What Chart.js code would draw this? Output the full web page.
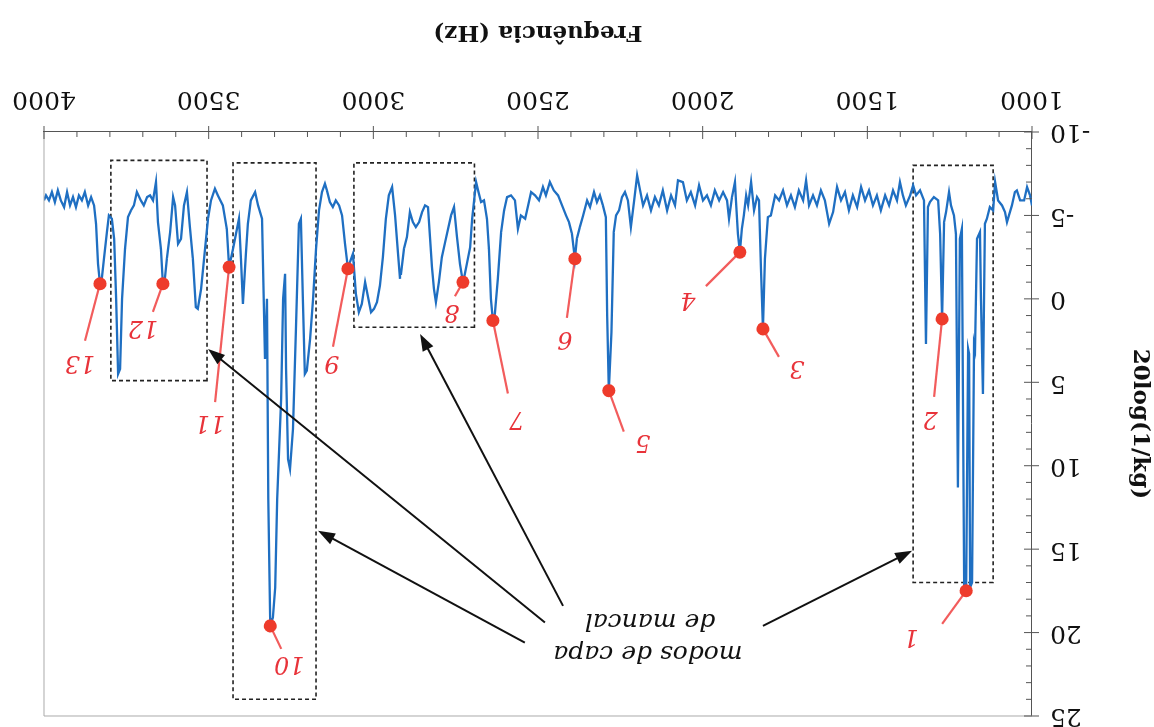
<!DOCTYPE html>
<html lang="pt">
<head>
<meta charset="UTF-8">
<title>Modos de capa de mancal</title>
<script src="https://cdn.jsdelivr.net/npm/chart.js"></script>
<style>
  html, body { margin: 0; padding: 0; background: #fff; }
  /* a figura original foi digitalizada de cabeça para baixo */
  #wrap { width: 1154px; height: 727px; transform: rotate(180deg); }
</style>
</head>
<body>
<div id="wrap"><canvas id="grafico" width="1154" height="727"></canvas></div>

<script>
// curva medida: frequência (Hz) e 20log(1/kg)
const freqHz = [
  1000,1006,1015,1024,1036,1046,1052,1061,1070,1076,
  1082,1091,1103,1112,1118,1128,1137,1143,1149,1155,
  1158,1167,1173,1176,1182,1188,1191,1194,1200,1206,
  1213,1219,1225,1231,1237,1246,1252,1261,1267,1273,
  1279,1285,1298,1310,1316,1322,1328,1340,1352,1361,
  1370,1383,1392,1401,1410,1422,1434,1446,1459,1471,
  1483,1495,1507,1519,1531,1544,1556,1568,1580,1592,
  1604,1616,1629,1641,1653,1665,1677,1686,1695,1708,
  1720,1732,1744,1756,1768,1780,1793,1802,1811,1817,
  1823,1829,1835,1844,1853,1862,1868,1875,1881,1887,
  1893,1899,1902,1911,1920,1926,1938,1950,1963,1975,
  1987,1999,2011,2023,2036,2048,2060,
  2075,2084,2096,2108,2121,2133,2145,2157,2169,2181,
  2190,2199,2208,2218,2227,2236,2245,2254,2263,2270,
  2277,2285,2290,2294,2303,2312,2321,2330,2342,2351,
  2363,2373,2382,2388,2397,2406,2415,2427,2439,2452,
  2464,2476,2485,2497,2509,2521,2530,2539,2552,2561,
  2570,2582,2594,2603,2612,2622,2631,2637,2643,2649,
  2655,2664,2673,2682,2688,2694,2700,2706,2715,2722,
  2728,2737,
  2746,2755,2764,2773,2782,2792,2801,2810,2816,2822,
  2828,2834,2843,2852,2861,2871,2880,2889,2898,2907,
  2916,2919,2925,2934,2943,2953,2962,2971,2980,2989,
  2998,3007,3016,3025,3035,3044,3053,3062,3071,3077,
  3086,3095,3104,3114,3123,3132,
  3141,3147,3156,3165,3174,3183,3192,3202,3208,3214,
  3220,3226,3235,3244,3253,3259,3265,3268,3274,3280,
  3286,3292,3298,3305,3313,3319,3323,3329,3338,3350,
  3359,3372,3381,3387,3396,3402,3408,3417,3426,3438,
  3445,3457,3472,3481,3493,3502,3514,3523,3533,3539,
  3548,3557,
  3566,3575,3584,3593,3602,3608,3617,3627,3633,3639,
  3645,3654,3660,3669,3678,3687,3697,3706,3718,3727,
  3736,3745,3754,3763,3769,3775,3781,3787,3794,3803,
  3809,3818,3824,3830,3836,3842,3848,3857,3866,3876,
  3885,3894,3903,3912,3921,3930,3939,3949,3958,3967,
  3976,3985,3994,4000
];
const level = [
  -5.6,-6.2,-6.7,-5.9,-5.9,-6.5,-6.4,-5.6,-5.0,-4.6,
  -5.2,-5.6,-5.9,-7.0,-5.3,-5.5,-4.8,-4.5,5.7,0.0,
  -4.0,-3.6,3.0,2.7,17.0,17.3,3.3,3.0,17.5,17.2,
  -4.2,-3.6,11.3,-3.9,-5.0,-5.6,-6.4,-5.2,-4.6,1.2,
  -3.9,-5.9,-6.1,-5.8,-5.5,2.7,-5.9,-6.5,-6.2,-6.8,
  -6.2,-5.6,-6.2,-7.0,-5.9,-6.5,-5.6,-6.2,-5.3,-6.2,
  -5.6,-6.5,-5.9,-6.7,-5.5,-6.2,-5.3,-6.4,-5.9,-6.7,
  -5.2,-4.5,-5.9,-6.5,-5.6,-6.2,-5.6,-7.1,-5.9,-6.5,
  -5.5,-6.2,-5.6,-6.5,-5.9,-6.2,-5.0,-4.9,-2.4,1.8,
  -1.8,-5.9,-6.1,-5.3,-7.0,-5.6,-6.2,-5.0,-4.2,-2.8,
  -3.9,-5.9,-7.0,-6.1,-4.8,-5.9,-6.4,-5.9,-6.5,-5.6,
  -6.2,-5.9,-6.8,-5.6,-6.4,-5.9,-7.0,
  -7.1,-5.6,-6.2,-5.3,-6.5,-5.6,-6.1,-5.3,-6.2,-5.6,
  -6.5,-7.4,-5.9,-4.3,-5.9,-6.4,-6.1,-5.3,-5.0,-4.0,
  2.0,5.5,1.0,-4.9,-5.6,-6.2,-5.8,-6.4,-5.5,-5.9,
  -5.0,-4.3,-3.6,-2.4,-3.9,-4.6,-5.0,-5.6,-6.2,-6.5,
  -7.0,-6.2,-6.7,-5.9,-6.2,-6.4,-5.6,-4.8,-5.0,-4.2,
  -5.9,-6.2,-6.1,-5.3,-4.0,-1.2,0.9,1.3,0.0,-3.0,
  -4.8,-5.9,-5.8,-6.5,-7.0,-5.9,-4.8,-3.1,-2.2,-1.5,
  -1.0,-2.1,
  -3.7,-5.5,-5.0,-4.2,-3.4,-2.5,-1.0,0.2,-0.6,-1.9,
  -3.7,-5.5,-5.6,-5.2,-4.6,-4.3,-4.6,-5.2,-3.7,-3.0,
  -1.5,-1.2,-2.7,-5.0,-6.7,-6.2,-4.8,-2.5,-0.8,0.2,
  0.6,0.8,-0.1,-1.0,0.3,0.8,-0.3,-2.7,-2.2,-1.8,
  -3.3,-5.0,-5.6,-5.9,-5.5,-5.8,
  -6.5,-6.9,-6.4,-5.3,-3.0,0.0,2.4,4.3,4.5,0.0,
  -4.8,-4.5,1.8,7.8,10.2,9.6,4.2,-1.5,0.0,6.0,
  9.0,12.0,17.3,19.1,19.6,12.0,0.0,3.6,-4.8,-5.6,
  -6.4,-5.9,-4.5,-2.7,0.3,-2.4,-4.8,-3.9,-3.0,-1.9,
  -4.2,-5.6,-6.2,-6.6,-5.9,-4.8,-2.4,-0.6,0.6,0.5,
  -2.4,-4.3,
  -6.4,-5.6,-3.6,-3.3,-5.6,-6.1,-4.0,-2.4,-1.2,-0.9,
  -3.0,-4.6,-7.0,-5.9,-6.2,-6.1,-5.6,-5.9,-6.4,-5.6,
  -5.3,-4.9,-3.0,0.0,4.2,4.5,0.0,-3.6,-4.8,-5.0,
  -4.0,-2.4,-1.3,-0.9,-2.1,-4.5,-5.6,-6.1,-5.6,-6.4,
  -5.9,-6.2,-5.5,-6.1,-5.6,-6.4,-5.5,-5.9,-6.5,-5.8,
  -6.4,-5.9,-6.2,-5.9
];

// picos numerados
const markFreq  = [1200, 1273, 1817, 1887, 2285, 2388, 2637, 2728, 3077, 3313, 3438, 3639, 3830];
const markLevel = [17.5, 1.2, 1.8, -2.8, 5.5, -2.4, 1.3, -1.0, -1.8, 19.6, -1.9, -0.9, -0.9];
const markLabel = ['1','2','3','4','5','6','7','8','9','10','11','12','13'];

// eixos
const xTicks = [1000, 1500, 2000, 2500, 3000, 3500, 4000];
const yTicks = [-10, -5, 0, 5, 10, 15, 20, 25];

// caixas tracejadas [f0, f1, v0, v1] e setas [fIni, vIni, fFim, vFim]
const caixas = [
  [1118, 1361, -8.0, 17.0],
  [2693, 3059, -8.15, 1.7],
  [3174, 3426, -8.15, 24.0],
  [3505, 3797, -8.3, 4.9]
];
const setas = [
  [1817, 19.6, 1364, 15.1],
  [2424, 18.4, 2858, 2.1],
  [2479, 19.4, 3502, 3.0],
  [2540, 20.6, 3168, 13.9]
];
const legendaTxt = ['modos de capa', 'de mancal'];
const legendaPos = [[2166, 21.2], [2160, 19.25]];

// deslocamento (px) da haste e do número de cada pico
const haste = [[24,-33],[8,-78],[-16,-28],[34,-34],[-15,-41],[8,-59],[-15,-73],[8,-14],[15,-78],[-11,-23],[14,-135],[10,-28],[15,-57]];
const rotulo = [[55,-45],[12,-99],[-34,-38],[52,-47],[-34,-51],[10,-79],[-24,-98],[11,-29],[16,-93],[-19,-37],[19,-155],[20,-43],[20,-78]];

const SERIF = '"DejaVu Serif", "Liberation Serif", serif';

function seta(ctx, x0, y0, x1, y1) {
  const a = Math.atan2(y1 - y0, x1 - x0), L = 17, W = 6;
  ctx.beginPath();
  ctx.moveTo(x0, y0);
  ctx.lineTo(x1 - L * 0.7 * Math.cos(a), y1 - L * 0.7 * Math.sin(a));
  ctx.stroke();
  ctx.beginPath();
  ctx.moveTo(x1, y1);
  ctx.lineTo(x1 - L * Math.cos(a) + W * Math.sin(a), y1 - L * Math.sin(a) - W * Math.cos(a));
  ctx.lineTo(x1 - L * Math.cos(a) - W * Math.sin(a), y1 - L * Math.sin(a) + W * Math.cos(a));
  ctx.closePath();
  ctx.fill();
}

const anotacoes = {
  id: 'anotacoes',
  beforeDatasetsDraw(chart) {
    const {ctx, scales: {x, y}} = chart;
    ctx.save();
    ctx.strokeStyle = '#222';
    ctx.lineWidth = 1.6;
    ctx.setLineDash([4, 3]);
    caixas.forEach(c => {
      const x0 = x.getPixelForValue(c[0]), x1 = x.getPixelForValue(c[1]);
      const y0 = y.getPixelForValue(c[2]), y1 = y.getPixelForValue(c[3]);
      ctx.strokeRect(x0, y1, x1 - x0, y0 - y1);
    });
    ctx.setLineDash([]);
    ctx.strokeStyle = '#f25c5c';
    ctx.lineWidth = 2.2;
    markFreq.forEach((f, i) => {
      const px = x.getPixelForValue(f), py = y.getPixelForValue(markLevel[i]);
      ctx.beginPath();
      ctx.moveTo(px, py);
      ctx.lineTo(px + haste[i][0], py + haste[i][1]);
      ctx.stroke();
    });
    ctx.restore();
  },
  afterDatasetsDraw(chart) {
    const {ctx, scales: {x, y}} = chart;
    ctx.save();
    ctx.textAlign = 'center';
    ctx.textBaseline = 'middle';
    ctx.fillStyle = '#e8333a';
    ctx.font = 'italic 24px ' + SERIF;
    markFreq.forEach((f, i) => {
      const px = x.getPixelForValue(f), py = y.getPixelForValue(markLevel[i]);
      ctx.fillText(markLabel[i], px + rotulo[i][0], py + rotulo[i][1]);
    });
    ctx.strokeStyle = '#111';
    ctx.fillStyle = '#111';
    ctx.lineWidth = 2;
    setas.forEach(s => seta(ctx,
      x.getPixelForValue(s[0]), y.getPixelForValue(s[1]),
      x.getPixelForValue(s[2]), y.getPixelForValue(s[3])));
    ctx.font = 'italic 25px ' + SERIF;
    legendaTxt.forEach((t, i) => {
      ctx.fillText(t, x.getPixelForValue(legendaPos[i][0]), y.getPixelForValue(legendaPos[i][1]));
    });
    ctx.restore();
  },
  afterDraw(chart) {
    const {ctx, chartArea: a, scales: {x, y}} = chart;
    ctx.save();
    ctx.strokeStyle = '#aaa';
    ctx.lineWidth = 1;
    ctx.beginPath();
    ctx.moveTo(a.left, a.top); ctx.lineTo(a.right, a.top); ctx.lineTo(a.right, a.bottom);
    ctx.stroke();
    ctx.strokeStyle = '#555';
    ctx.beginPath();
    for (let f = 1000; f <= 4000; f += 100) {
      const px = x.getPixelForValue(f);
      const major = f % 500 === 0;
      ctx.moveTo(px, a.bottom + (major ? 6 : 0));
      ctx.lineTo(px, a.bottom - (major ? 7 : 5));
    }
    for (let v = -10; v <= 25; v += 1) {
      const py = y.getPixelForValue(v);
      const major = v % 5 === 0;
      ctx.moveTo(a.left - (major ? 7 : 0), py);
      ctx.lineTo(a.left + (major ? 8 : 6), py);
    }
    ctx.stroke();
    ctx.restore();
  }
};

new Chart(document.getElementById('grafico'), {
  type: 'line',
  data: {
    datasets: [
      {
        type: 'scatter',
        data: markFreq.map((f, i) => ({x: f, y: markLevel[i]})),
        backgroundColor: '#ee3b2b',
        borderWidth: 0,
        pointRadius: 6.5,
        order: 1
      },
      {
        data: freqHz.map((f, i) => ({x: f, y: level[i]})),
        borderColor: '#1f6fc2',
        borderWidth: 2.3,
        pointRadius: 0,
        tension: 0,
        order: 2
      }
    ]
  },
  options: {
    responsive: false,
    animation: false,
    layout: { padding: { top: 11, right: 44, left: 0, bottom: 0 } },
    plugins: { legend: { display: false }, tooltip: { enabled: false } },
    scales: {
      x: {
        type: 'linear',
        min: 1000,
        max: 4000,
        afterBuildTicks: s => { s.ticks = xTicks.map(v => ({value: v})); },
        afterFit: s => { s.height = 132; s.paddingLeft = 0; s.paddingRight = 0; },
        ticks: { color: '#111', padding: 18, maxRotation: 0, autoSkip: false,
                 callback: v => String(v),
                 font: { family: SERIF, size: 25 } },
        grid: { display: false, drawTicks: false },
        border: { color: '#555', width: 1 },
        title: { display: true, text: 'Frequência (Hz)', color: '#111',
                 font: { family: SERIF, size: 23, weight: 'bold' },
                 padding: { top: 0, bottom: 18 } }
      },
      y: {
        min: -10,
        max: 25,
        afterBuildTicks: s => { s.ticks = yTicks.map(v => ({value: v})); },
        afterFit: s => { s.width = 122; s.paddingTop = 0; s.paddingBottom = 0; },
        ticks: { color: '#111', padding: 18, callback: v => String(v),
                 font: { family: SERIF, size: 25 } },
        grid: { display: false, drawTicks: false },
        border: { color: '#555', width: 1 },
        title: { display: true, text: '20log(1/kg)', color: '#111',
                 font: { family: SERIF, size: 23, weight: 'bold' },
                 padding: { top: 0, bottom: 0 } }
      }
    }
  },
  plugins: [anotacoes]
});
</script>
</body>
</html>
